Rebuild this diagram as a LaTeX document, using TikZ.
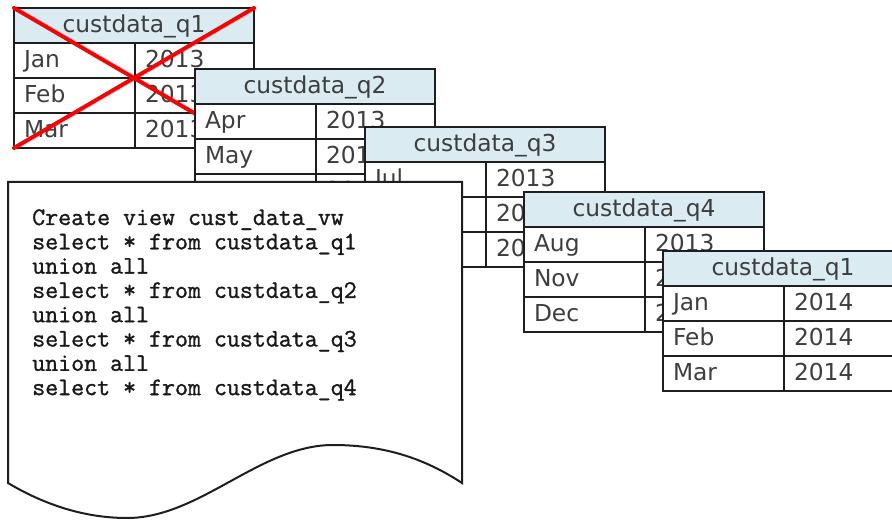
\documentclass[tikz,border=0pt]{standalone}
\usepackage{fontspec}
\setmainfont{DejaVu Sans}
\newfontfamily\sqlfont[FakeBold=1.2]{Latin Modern Mono}
\usetikzlibrary{positioning}
\definecolor{hdrblue}{RGB}{218,235,242}
\definecolor{cellgray}{RGB}{62,62,62}
\definecolor{linegray}{RGB}{30,30,30}

% one quarter table: name, top left corner, title, month/year rows
\newcommand{\quartertab}[4]{%
  \node[hdr, anchor=north west] (#1) at (#2) {#3};
  \foreach \mon/\yr [count=\i] in {#4} {
    \node[moncell, anchor=north west] (#1-m\i) at ([yshift={-(\i-1)*26.25pt}]#1.south west) {\mon};
    \node[yrcell, anchor=west] (#1-y\i) at (#1-m\i.east) {\yr};
  }
}

\begin{document}
\begin{tikzpicture}[x=0.75pt, y=-0.75pt,
    cell/.style={draw=linegray, line width=1.5pt, fill=white, text=cellgray,
      minimum height=26.25pt, inner ysep=0pt, outer sep=0pt,
      text height=12.8pt, text depth=3pt, font=\fontsize{17.5}{20}\selectfont},
    hdr/.style={cell, fill=hdrblue, minimum width=180pt, inner xsep=0pt},
    moncell/.style={cell, inner xsep=7.5pt, text width=75.75pt, align=left},
    yrcell/.style={cell, inner xsep=7.5pt, text width=74.25pt, align=left},
    sql/.style={anchor=base west, inner sep=0pt, text=black!90,
      font=\sqlfont\fontsize{18.9}{20}\selectfont}]
  \useasboundingbox (0,0) rectangle (892,520);

  \quartertab{q1old}{14,8}{custdata\_q1}{Jan/2013,Feb/2013,Mar/2013}
  \draw[red, line width=3pt, line cap=round]
    (q1old.north west) -- (q1old-y3.south east)
    (q1old.north east) -- (q1old-m3.south west);

  \quartertab{q2}{195,69}{custdata\_q2}{Apr/2013,May/2013,Jun/2013}
  \quartertab{q3}{365,127}{custdata\_q3}{Jul/2013,Aug/2013,Sep/2013}

  % the view definition sheet
  \draw[linegray, line width=1.5pt, fill=white]
    (8,182) -- (462,182) -- (462,483)
    .. controls (430,462) and (390,445) .. (333,445)
    .. controls (260,445) and (200,518) .. (127,518)
    .. controls (85,518) and (45,505) .. (8,483) -- cycle;
  \foreach \ln [count=\i] in {Create view cust\_data\_vw, select * from custdata\_q1,
      union all, select * from custdata\_q2, union all, select * from custdata\_q3,
      union all, select * from custdata\_q4}
    \node[sql] (sql\i) at (32, {225+(\i-1)*24.3}) {\ln};

  \quartertab{q4}{524,192}{custdata\_q4}{Aug/2013,Nov/2013,Dec/2013}
  \quartertab{q1new}{663,251}{custdata\_q1}{Jan/2014,Feb/2014,Mar/2014}
\end{tikzpicture}
\end{document}
